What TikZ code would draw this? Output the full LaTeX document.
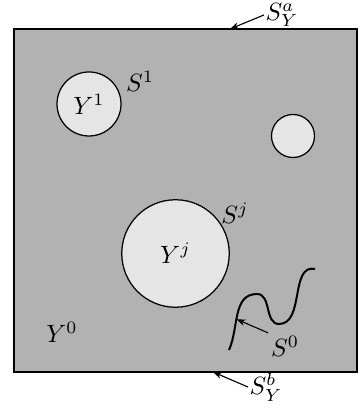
\documentclass[tikz,border=0pt]{standalone}
\usetikzlibrary{arrows.meta}

\begin{document}
\begin{tikzpicture}[
  x=0.4pt, y=0.4pt,
  >={Stealth[length=3.6pt, width=2.6pt]},
  every node/.style={inner sep=1pt},
  hole/.style={circle, draw, line width=0.5pt, fill=black!10,
               inner sep=0pt, minimum size=#1},
  pointer/.style={->, line width=0.45pt},
]
\useasboundingbox (0,0) rectangle (359,410);

% ── Domain Y (square) ────────────────────────────────────────────────────────
\draw[line width=0.9pt, fill=black!30] (14,38) rectangle (357,381);
\coordinate (top) at (230,381);
\coordinate (bot) at (213,38);

% ── Inclusions ───────────────────────────────────────────────────────────────
\node[hole=25.6pt] (Y1) at (89,306)    {$Y^1$};
\node[hole=17.2pt] (Yk) at (293,274)   {};
\node[hole=43pt]   (Yj) at (175.5,156.5) {$Y^j$};

% boundary labels of the inclusions
\node (S1) at (140,329) {$S^1$};
\node (Sj) at (235,197) {$S^j$};

% matrix label
\node (Y0) at (62,78) {$Y^0$};

% ── Crack S^0 ────────────────────────────────────────────────────────────────
\draw[line width=0.8pt]
  (229,60) to[out=66, in=180] coordinate[pos=0.42] (hit) (257,116)
           to[out=0, in=180] (279,86)
           to[out=0, in=168] (315,141);
\node (S0) at (285,64) {$S^0$};

% ── Outer boundary labels ────────────────────────────────────────────────────
\node[inner sep=0.5pt] (Sa) at (282,395) {$S_Y^a$};
\node[inner sep=0.5pt] (Sb) at (266,23)  {$S_Y^b$};

% ── Pointers ─────────────────────────────────────────────────────────────────
\draw[pointer] (Sa.west) -- (top);
\draw[pointer] (Sb.west) -- (bot);
\draw[pointer] (S0.north west) -- (hit);

\end{tikzpicture}
\end{document}
